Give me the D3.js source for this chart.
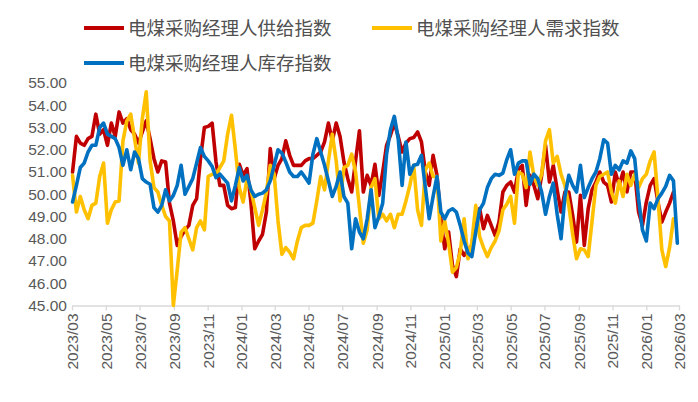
<!DOCTYPE html>
<html>
<head>
<meta charset="utf-8">
<script src="https://cdn.jsdelivr.net/npm/d3@7/dist/d3.min.js"></script>
<style>
html,body{margin:0;padding:0;background:#fff;}
svg{display:block;}
text{font-family:"Liberation Sans","Noto Sans CJK SC",Arial,sans-serif;}
</style>
</head>
<body>
<svg id="chart" width="698" height="402"></svg>
<script>
// ---- Data (weekly observations starting 2023-03-02) ----
const firstWeek = "2023-03-02";
const seriesNames = ["电煤采购经理人供给指数", "电煤采购经理人需求指数", "电煤采购经理人库存指数"];
const seriesColors = ["#C00000", "#FFC000", "#0070C0"];
const tickLabels = ["2023/03","2023/05","2023/07","2023/09","2023/11","2024/01","2024/03","2024/05","2024/07","2024/09","2024/11","2025/01","2025/03","2025/05","2025/07","2025/09","2025/11","2026/01","2026/03"];
const yTicks = [45,46,47,48,49,50,51,52,53,54,55];

const supply = [
51.0,52.6,52.3,52.2,52.5,52.6,53.6,52.7,52.9,52.2,
53.2,52.6,53.7,53.2,53.4,52.9,52.7,52.3,52.8,53.3,
52.5,51.6,51.0,51.5,51.45,49.6,48.8,47.7,48.1,48.4,
48.6,49.5,49.8,51.6,53.0,53.05,53.2,51.45,50.4,50.4,
49.5,49.35,49.4,51.35,50.85,51.15,49.65,47.55,47.9,48.2,
49.2,52.05,50.7,51.3,51.6,52.4,51.75,51.3,51.3,51.3,
51.5,51.6,51.6,51.75,51.9,52.35,53.2,52.4,53.2,52.6,
51.45,50.7,50.1,51.5,52.85,50.1,50.85,50.4,51.35,49.95,
51.0,52.2,52.65,53.2,52.6,51.9,52.3,52.5,52.55,52.8,
52.35,51.0,50.4,51.75,50.85,48.9,47.55,48.3,46.8,46.3,
47.55,47.25,47.5,47.7,49.05,49.35,48.45,49.05,48.6,48.15,
48.75,50.1,50.4,50.55,50.1,51.1,51.3,49.5,50.85,50.4,
49.8,50.85,52.2,50.55,51.3,50.2,49.2,50.1,50.1,49.05,
47.85,49.95,47.7,49.35,50.2,50.55,51.0,50.55,50.4,49.65,
51.0,50.4,51.0,50.1,51.0,51.0,49.2,48.6,49.65,50.4,
50.7,49.65,48.75,49.2,49.6,50.1
];
const demand = [
50.85,49.2,49.9,49.3,48.9,49.5,49.6,50.8,51.4,48.7,
49.3,49.65,49.7,52.4,53.3,53.6,52.5,51.4,53.4,54.6,
51.5,50.3,50.1,49.5,49.0,48.8,45.0,46.6,48.3,48.5,
48.0,47.5,48.5,48.8,48.4,50.8,50.9,50.9,51.2,51.5,
52.7,53.55,52.0,50.3,49.65,50.7,50.2,49.4,48.6,49.3,
50.1,51.3,50.9,48.8,47.3,47.6,47.4,47.1,47.9,48.5,
48.6,48.6,48.7,49.7,50.8,50.2,51.5,52.7,51.5,49.7,
51.2,51.3,51.8,51.0,49.4,47.8,48.4,50.3,50.7,48.9,
49.1,48.8,49.1,48.5,49.1,49.1,49.7,50.4,51.3,49.3,
48.6,51.1,51.4,50.8,50.8,47.9,48.8,47.8,46.5,46.7,
47.4,48.9,47.1,47.85,49.5,48.1,47.6,47.2,47.6,47.9,
48.35,49.3,49.55,49.9,48.7,51.0,50.9,50.3,51.9,50.8,
50.4,50.9,52.4,52.9,51.4,51.7,50.9,50.4,49.5,48.2,
47.1,47.55,47.5,47.2,48.8,50.4,50.8,50.9,51.0,50.1,
49.6,50.6,49.9,50.9,50.4,50.9,50.3,50.7,50.9,51.5,
51.9,49.8,47.5,46.75,47.6,48.9
];
const inventory = [
49.65,50.4,51.2,51.4,51.9,52.2,52.2,53.0,53.2,52.7,
52.6,52.5,52.1,51.3,52.0,51.1,51.9,51.6,50.7,50.55,
50.45,49.4,49.2,49.5,50.2,49.7,49.95,50.4,51.3,50.0,
50.35,50.7,51.4,52.1,51.7,51.5,51.25,50.75,50.9,50.7,
50.5,49.7,50.4,51.2,50.6,50.85,50.2,49.9,50.0,50.05,
50.2,50.6,51.3,52.0,51.85,51.45,51.0,50.8,50.8,51.0,
50.75,50.5,51.8,52.5,51.9,51.3,50.6,49.9,50.35,51.0,
49.9,49.6,47.55,48.9,48.3,48.0,48.9,50.2,48.5,49.0,
49.6,51.8,52.9,53.5,52.5,50.4,52.35,50.9,51.3,51.35,
51.75,50.3,48.9,49.9,50.8,49.2,48.9,49.25,49.35,49.2,
48.6,47.9,47.35,47.2,48.3,49.3,49.6,50.3,50.7,50.9,
50.85,50.95,51.55,52.0,50.9,51.4,51.5,51.5,50.45,50.9,
50.7,50.1,49.1,49.9,50.5,49.1,48.0,49.9,50.85,50.4,
50.1,51.3,49.85,50.3,50.7,51.0,51.6,52.45,52.3,50.9,
51.3,51.1,51.5,51.4,51.95,51.6,49.8,48.4,47.9,49.6,
49.35,49.8,50.05,50.35,50.85,50.6,47.8
];

// ---- Layout ----
const svg = d3.select("#chart");
const plotLeft = 72, plotRight = 679, plotTop = 83, plotBottom = 305.5;
const parseDay = d3.timeParse("%Y-%m-%d");
const parseTick = d3.timeParse("%Y/%m");
const startDate = parseDay(firstWeek);
const dateAt = i => d3.timeDay.offset(startDate, 7 * i);

const x = d3.scaleTime()
  .domain([parseTick(tickLabels[0]), parseTick(tickLabels[tickLabels.length - 1])])
  .range([plotLeft, plotRight]);
const y = d3.scaleLinear().domain([45, 55]).range([plotBottom, plotTop]);

// Y axis (labels only)
const yAxis = svg.append("g").attr("transform", `translate(${plotLeft},0)`)
  .call(d3.axisLeft(y).tickValues(yTicks).tickFormat(d3.format(".2f")).tickSize(0).tickPadding(5));
yAxis.select(".domain").remove();
yAxis.selectAll("text").attr("fill", "#595959").style("font-size", "15.5px")
  .style("font-family", "'Liberation Sans',Arial,sans-serif");

// X axis
const xAxis = svg.append("g").attr("transform", `translate(0,${plotBottom})`)
  .call(d3.axisBottom(x).tickValues(tickLabels.map(parseTick)).tickFormat(d3.timeFormat("%Y/%m")).tickSize(5).tickSizeOuter(0));
xAxis.select(".domain").attr("stroke", "#d9d9d9").attr("stroke-width", 1.3);
xAxis.selectAll(".tick line").attr("stroke", "#d9d9d9").attr("stroke-width", 1.3);
xAxis.selectAll("text")
  .attr("fill", "#595959").style("font-size", "15.5px")
  .style("font-family", "'Liberation Sans',Arial,sans-serif")
  .attr("transform", "rotate(-90)")
  .attr("text-anchor", "end")
  .attr("x", -8).attr("y", 0).attr("dy", "0.35em");

// Lines
const allSeries = [supply, demand, inventory];
const line = d3.line().x((d, i) => x(dateAt(i))).y(d => y(d)).curve(d3.curveLinear);
allSeries.forEach((vals, k) => {
  svg.append("path")
    .datum(vals)
    .attr("fill", "none")
    .attr("stroke", seriesColors[k])
    .attr("stroke-width", 3.6)
    .attr("stroke-linejoin", "round")
    .attr("stroke-linecap", "round")
    .attr("d", line);
});

// Legend
const legendPos = [[84, 28], [372, 28], [84, 63]];
seriesNames.forEach((name, k) => {
  const [lx, ly] = legendPos[k];
  const g = svg.append("g");
  g.append("line").attr("x1", lx).attr("x2", lx + 40).attr("y1", ly).attr("y2", ly)
    .attr("stroke", seriesColors[k]).attr("stroke-width", 3.8);
  g.append("text").attr("x", lx + 44).attr("y", ly).attr("dy", "0.36em")
    .attr("fill", "#505050").style("font-size", "18.5px")
    .style("font-family", "'Noto Sans CJK SC',sans-serif")
    .text(name);
});
</script>
</body>
</html>
